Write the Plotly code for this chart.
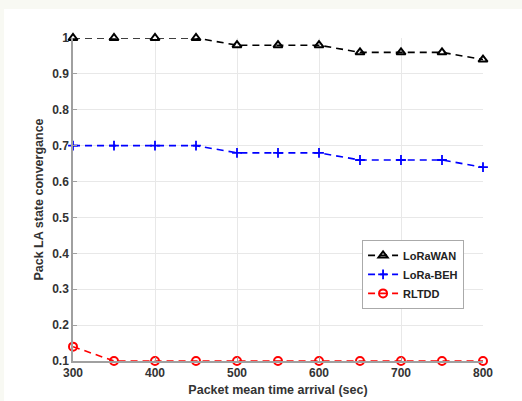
import plotly.graph_objects as go

x_vals = [300, 350, 400, 450, 500, 550, 600, 650, 700, 750, 800]
lorawan = [1.0, 1.0, 1.0, 1.0, 0.98, 0.98, 0.98, 0.96, 0.96, 0.96, 0.94]
lora_beh = [0.7, 0.7, 0.7, 0.7, 0.68, 0.68, 0.68, 0.66, 0.66, 0.66, 0.64]
rltdd = [0.14, 0.1, 0.1, 0.1, 0.1, 0.1, 0.1, 0.1, 0.1, 0.1, 0.1]
x_ticks = [300, 400, 500, 600, 700, 800]
y_ticks = [0.1, 0.2, 0.3, 0.4, 0.5, 0.6, 0.7, 0.8, 0.9, 1]
y_tick_text = ["0.1", "0.2", "0.3", "0.4", "0.5", "0.6", "0.7", "0.8", "0.9", "1"]

FONT = "Liberation Sans, Arial, sans-serif"
DASH = "7px,5px"

fig = go.Figure()
fig.add_trace(go.Scatter(x=x_vals, y=lorawan, name="<b>LoRaWAN</b>", mode="lines+markers",
                         line=dict(color="black", width=1.6, dash=DASH),
                         marker=dict(symbol="triangle-up-open", size=8, color="black",
                                     line=dict(width=2, color="black")),
                         cliponaxis=False))
fig.add_trace(go.Scatter(x=x_vals, y=lora_beh, name="<b>LoRa-BEH</b>", mode="lines+markers",
                         line=dict(color="#0000ff", width=1.6, dash=DASH),
                         marker=dict(symbol="cross-thin", size=7, color="#0000ff",
                                     line=dict(width=1.8, color="#0000ff")),
                         cliponaxis=False))
fig.add_trace(go.Scatter(x=x_vals, y=rltdd, name="<b>RLTDD</b>", mode="lines+markers",
                         line=dict(color="#ff0000", width=1.6, dash=DASH),
                         marker=dict(symbol="circle-open", size=8, color="#ff0000",
                                     line=dict(width=2, color="#ff0000")),
                         cliponaxis=False))

fig.update_layout(
    width=522, height=401,
    margin=dict(l=73, r=39, t=38, b=40, autoexpand=False),
    paper_bgcolor="#f8f9f3",
    plot_bgcolor="white",
    font=dict(family=FONT, size=11, color="#333333"),
    showlegend=True,
    legend=dict(x=0.705, y=0.375, xanchor="left", yanchor="top",
                bgcolor="white", bordercolor="#aaaaaa", borderwidth=1,
                font=dict(size=11, color="#222222", family=FONT),
                tracegroupgap=0, itemwidth=30),
    shapes=[dict(type="rect", xref="paper", yref="paper", x0=-0.168, x1=1.1, y0=-0.13, y1=1.0898,
                 fillcolor="white", line=dict(width=0), layer="below")],
)
fig.update_xaxes(range=[300, 800], tickvals=x_ticks, ticktext=["<b>%d</b>" % t for t in x_ticks],
                 showgrid=True, gridcolor="#e8e8e8",
                 showline=True, linecolor="#a0a0a0", linewidth=1.5, zeroline=False,
                 ticks="inside", ticklen=4, tickcolor="#a0a0a0",
                 tickfont=dict(size=12, family=FONT, color="#333333"),
                 title=dict(text="<b>Packet mean time arrival (sec)</b>", standoff=6,
                            font=dict(size=12.5, color="#333333")))
fig.update_yaxes(range=[0.1, 1], tickvals=y_ticks, ticktext=["<b>%s</b>" % t for t in y_tick_text],
                 showgrid=True, gridcolor="#e8e8e8",
                 showline=True, linecolor="#a0a0a0", linewidth=1.5, zeroline=False,
                 ticks="inside", ticklen=4, tickcolor="#a0a0a0",
                 tickfont=dict(size=12, family=FONT, color="#333333"),
                 title=dict(text="<b>Pack LA state convergance</b>", standoff=6,
                            font=dict(size=12.5, color="#333333")))
fig.write_html("out.html", config={"displayModeBar": False},
               post_script="document.body.style.margin='0';document.body.style.background='#f8f9f3';")
